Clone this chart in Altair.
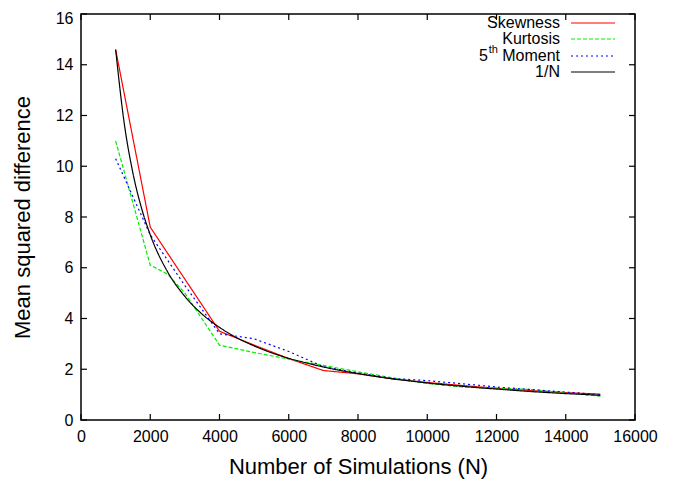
import altair as alt
import pandas as pd

# ---- data ----
sim_x = [1000, 2000, 3000, 4000, 5000, 6000, 7000, 8000, 9000, 10000,
         11000, 12000, 13000, 14000, 15000]
skewness = [14.6, 7.6, 5.55, 3.5, 2.95, 2.42, 1.95, 1.82, 1.62, 1.48,
            1.36, 1.25, 1.16, 1.08, 1.02]

kurt_x = [1000, 2000, 2500, 3000, 4000, 5000, 6000, 7000, 8000, 9000,
          10000, 11000, 12000, 13000, 14000, 15000]
kurtosis = [11.0, 6.1, 5.75, 5.0, 2.95, 2.66, 2.4, 2.15, 1.9, 1.66,
            1.44, 1.3, 1.26, 1.2, 1.07, 0.94]

moment5 = [10.3, 7.3, 5.3, 3.4, 3.2, 2.7, 2.1, 1.85, 1.64, 1.55,
           1.43, 1.3, 1.2, 1.1, 1.0]

invn_x = [1000, 1250, 1500, 1750, 2000, 2500, 3000, 3500, 4000, 4500,
          5000, 5500, 6000, 6500, 7000, 7500, 8000, 8500, 9000, 9500,
          10000, 10500, 11000, 11500, 12000, 12500, 13000, 13500, 14000,
          14500, 15000]
invn = [14.6, 11.68, 9.73, 8.34, 7.3, 5.84, 4.87, 4.17, 3.65, 3.24,
        2.92, 2.65, 2.43, 2.25, 2.09, 1.95, 1.83, 1.72, 1.62, 1.54,
        1.46, 1.39, 1.33, 1.27, 1.22, 1.17, 1.12, 1.08, 1.04,
        1.01, 0.97]

x_ticks = [0, 2000, 4000, 6000, 8000, 10000, 12000, 14000, 16000]
y_ticks = [0, 2, 4, 6, 8, 10, 12, 14, 16]

series_names = ["Skewness", "Kurtosis", "5th Moment", "1/N"]
series_colors = ["#ff0000", "#00ee00", "#0000ff", "#000000"]
series_dash = [[1, 0], [4, 2], [2, 3], [1, 0]]

W, H = 554, 406
FONT = "Liberation Sans"
XTITLE = "Number of Simulations (N)"
YTITLE = "Mean squared difference"

xscale = alt.Scale(domain=[0, 16000], nice=False)
yscale = alt.Scale(domain=[0, 16], nice=False)


def xenc(field):
    return alt.X(field, scale=xscale, title=XTITLE,
                 axis=alt.Axis(values=x_ticks, format="d"))


def yenc(field):
    return alt.Y(field, scale=yscale, title=YTITLE,
                 axis=alt.Axis(values=y_ticks, format="d",
                               labelOffset={"condition": {"test": "datum.value >= 16",
                                                          "value": 4},
                                            "value": 0}))


series_data = [
    (sim_x, skewness),
    (kurt_x, kurtosis),
    (sim_x, moment5),
    (invn_x, invn),
]

layers = []
for (xs, ys), name, col, dash in zip(series_data, series_names,
                                     series_colors, series_dash):
    df = pd.DataFrame({"N": xs, "v": ys})
    mk = alt.Chart(df).mark_line(
        color=col, strokeWidth=1.2, strokeDash=dash,
        interpolate="monotone" if name == "1/N" else "linear",
    ).encode(x=xenc("N:Q"), y=yenc("v:Q"))
    layers.append(mk)

# inward ticks (gnuplot style, mirrored)
xt = pd.DataFrame({"N": x_ticks})
yt = pd.DataFrame({"v": y_ticks})
tick_style = dict(color="black", strokeWidth=1.2)
layers.append(alt.Chart(xt).mark_rule(**tick_style).encode(
    x=xenc("N:Q"), y=alt.value(H), y2=alt.value(H - 6)))
layers.append(alt.Chart(xt).mark_rule(**tick_style).encode(
    x=xenc("N:Q"), y=alt.value(0), y2=alt.value(6)))
layers.append(alt.Chart(yt).mark_rule(**tick_style).encode(
    y=yenc("v:Q"), x=alt.value(0), x2=alt.value(6)))
layers.append(alt.Chart(yt).mark_rule(**tick_style).encode(
    y=yenc("v:Q"), x=alt.value(W), x2=alt.value(W - 6)))

# legend (label on the left, sample on the right)
leg_y = [9, 25, 42, 58]
text_right = 479
for name, col, dash, ly in zip(series_names, series_colors, series_dash, leg_y):
    d = pd.DataFrame({"name": [name]})
    layers.append(alt.Chart(d).mark_rule(
        color=col, strokeWidth=1.2, strokeDash=dash).encode(
        x=alt.value(490), x2=alt.value(534), y=alt.value(ly)))
    if name == "5th Moment":
        layers.append(alt.Chart(pd.DataFrame({"s": ["Moment"]})).mark_text(
            align="right", baseline="middle", font=FONT, fontSize=16, color="black"
        ).encode(text="s:N", x=alt.value(text_right), y=alt.value(ly)))
        layers.append(alt.Chart(pd.DataFrame({"s": ["th"]})).mark_text(
            align="right", baseline="middle", font=FONT, fontSize=11, color="black"
        ).encode(text="s:N", x=alt.value(text_right - 62), y=alt.value(ly - 6)))
        layers.append(alt.Chart(pd.DataFrame({"s": ["5"]})).mark_text(
            align="right", baseline="middle", font=FONT, fontSize=16, color="black"
        ).encode(text="s:N", x=alt.value(text_right - 72), y=alt.value(ly)))
    else:
        layers.append(alt.Chart(d).mark_text(
            align="right", baseline="middle", font=FONT, fontSize=16, color="black"
        ).encode(text="name:N", x=alt.value(text_right), y=alt.value(ly)))

chart = alt.layer(*layers).properties(
    width=W, height=H,
    autosize=alt.AutoSizeParams(type="none"),
    padding={"left": 73, "top": 6, "right": 40, "bottom": 62},
    background="white",
).configure_view(
    stroke="black", strokeWidth=1.5
).configure_axis(
    domain=False, ticks=False, tickSize=0, grid=False,
    labelFlush=False, labelOverlap=False,
    labelFont=FONT, labelFontSize=16, labelColor="black",
    titleFont=FONT, titleFontSize=22, titleFontWeight="normal", titleColor="black",
).configure_axisX(
    labelPadding=8, titlePadding=12,
).configure_axisY(
    labelPadding=8, titlePadding=21,
)

chart.save("out.html", embed_options={"renderer": "svg", "actions": False})
